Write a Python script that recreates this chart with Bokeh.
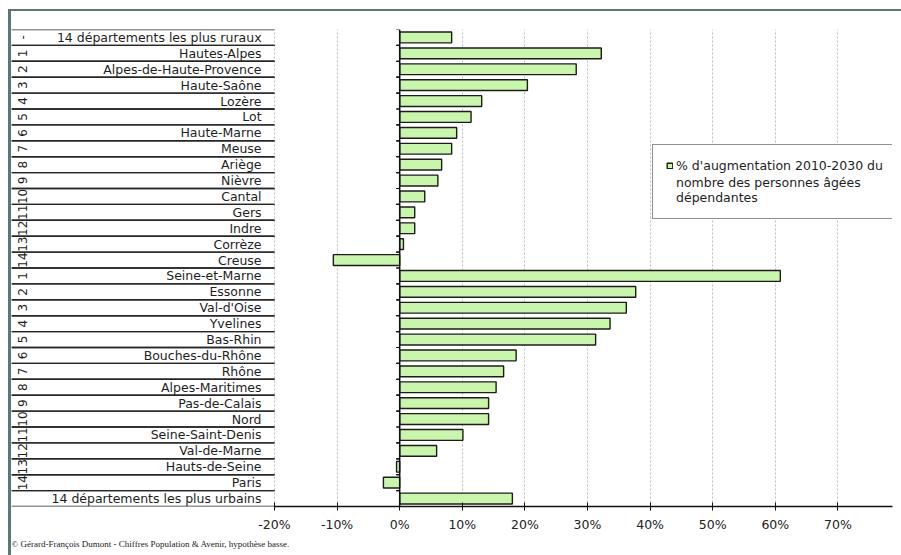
import math
from bokeh.plotting import figure
from bokeh.models import (FactorRange, Range1d, FixedTicker, PrintfTickFormatter,
                          Span, Title, Legend, LegendItem, ColumnDataSource)
from bokeh.layouts import column
from bokeh.embed import file_html
from bokeh.resources import INLINE
from bokeh.core.properties import value

# ---------------- data ----------------
names = [
    "14 départements les plus ruraux", "Hautes-Alpes", "Alpes-de-Haute-Provence",
    "Haute-Saône", "Lozère", "Lot", "Haute-Marne", "Meuse", "Ariège", "Nièvre",
    "Cantal", "Gers", "Indre", "Corrèze", "Creuse",
    "Seine-et-Marne", "Essonne", "Val-d'Oise", "Yvelines", "Bas-Rhin",
    "Bouches-du-Rhône", "Rhône", "Alpes-Maritimes", "Pas-de-Calais", "Nord",
    "Seine-Saint-Denis", "Val-de-Marne", "Hauts-de-Seine", "Paris",
    "14 départements les plus urbains",
]
ranks = ["-"] + [str(i) for i in range(1, 15)] + [str(i) for i in range(1, 15)] + [""]
values = [8.3, 32.2, 28.2, 20.4, 13.1, 11.4, 9.1, 8.3, 6.7, 6.1,
          4.0, 2.4, 2.4, 0.6, -10.6,
          60.8, 37.7, 36.2, 33.6, 31.3, 18.6, 16.6, 15.4, 14.2, 14.2,
          10.1, 5.9, -0.5, -2.6, 18.0]
x_ticks = [-20, -10, 0, 10, 20, 30, 40, 50, 60, 70]
legend_line1 = "% d'augmentation 2010-2030 du"
legend_rest = "nombre des personnes âgées\ndépendantes"
footer = "© Gérard-François Dumont - Chiffres Population & Avenir, hypothèse basse."

FONT = "DejaVu Sans"
X_LEFT, X_RIGHT = -62.01, 78.72
TABLE_RIGHT = -20

src = ColumnDataSource(dict(
    name=names, rank=ranks, val=values,
    top=[(n, 0.5) for n in names], bot=[(n, -0.5) for n in names],
))

p = figure(width=890, height=544,
           y_range=FactorRange(factors=list(reversed(names))),
           x_range=Range1d(X_LEFT, X_RIGHT),
           y_axis_location=None,
           output_backend="svg", toolbar_location=None,
           min_border_left=0, min_border_right=9,
           min_border_top=18, min_border_bottom=49)
p.outline_line_color = None
p.background_fill_color = "white"
p.border_fill_color = "white"

# grid
p.ygrid.visible = False
p.xgrid.ticker = FixedTicker(ticks=x_ticks)
p.xgrid.grid_line_color = "#bcbcbc"
p.xgrid.grid_line_dash = "2 2"
p.xgrid.grid_line_width = 1

# x axis
ax = p.xaxis[0]
ax.ticker = FixedTicker(ticks=x_ticks)
ax.formatter = PrintfTickFormatter(format="%d%%")
ax.bounds = (TABLE_RIGHT, X_RIGHT)
ax.axis_line_color = "#111"
ax.axis_line_width = 1.5
ax.major_tick_line_color = "#111"
ax.major_tick_in = 4
ax.major_tick_out = 4
ax.minor_tick_line_color = None
ax.major_label_standoff = 6
ax.major_label_text_font = FONT
ax.major_label_text_font_size = "12.5px"
ax.major_label_text_color = "#222"

# label table rows
p.segment(x0=X_LEFT, x1=TABLE_RIGHT, y0="top", y1="top", source=src,
          line_color="#262626", line_width=1.4)
p.segment(x0=X_LEFT, x1=TABLE_RIGHT, y0="bot", y1="bot", source=src,
          line_color="#262626", line_width=1.4)
p.text(x=-22.07, y="name", text="name", source=src, text_align="right",
       text_baseline="middle", text_font=value(FONT), text_font_size="12.5px",
       text_color="#1e1e1e")
p.text(x=-60.3, y="name", text="rank", source=src, angle=math.pi / 2,
       text_align="center", text_baseline="middle", text_font=value(FONT),
       text_font_size="12px", text_color="#1e1e1e")

# bars
bars = p.hbar(y="name", left=0, right="val", height=0.68, source=src,
              fill_color="#c9f5ad", line_color="#1c1c1c", line_width=1.4)

# zero line and its ticks
p.add_layout(Span(location=0, dimension="height", line_color="#111", line_width=1.5))
p.segment(x0=-0.55, x1=0, y0="bot", y1="bot", source=src, line_color="#111", line_width=1.2)
p.segment(x0=-0.55, x1=0, y0="top", y1="top", source=src, line_color="#111", line_width=1.2)

# legend (second item: continuation lines, glyph invisible)
ghost = p.hbar(y=[], left=[], right=[], height=0.5, fill_color=None, line_color=None)
legend = Legend(items=[LegendItem(label=legend_line1, renderers=[bars]),
                       LegendItem(label=legend_rest, renderers=[ghost])],
                location=(641, 287),
                border_line_color="#222", border_line_width=1.5,
                background_fill_color="white", background_fill_alpha=1,
                label_text_font=FONT, label_text_font_size="12.5px",
                label_text_color="#1e1e1e", label_text_line_height=1.3,
                label_height=12, label_width=236,
                glyph_width=7, glyph_height=7, label_standoff=3,
                spacing=2, padding=13, margin=0)
p.add_layout(legend)

# footer
p.add_layout(Title(text=footer, align="left", text_font="Liberation Serif",
                   text_font_size="9px", text_font_style="normal",
                   text_color="#222", standoff=4), "below")

layout = column(p, styles={"margin-left": "8px", "margin-top": "9px",
                           "border-left": "3px solid #5e7676",
                           "border-top": "2px solid #5e7676"})

open("out.html", "w").write(file_html(layout, INLINE))
